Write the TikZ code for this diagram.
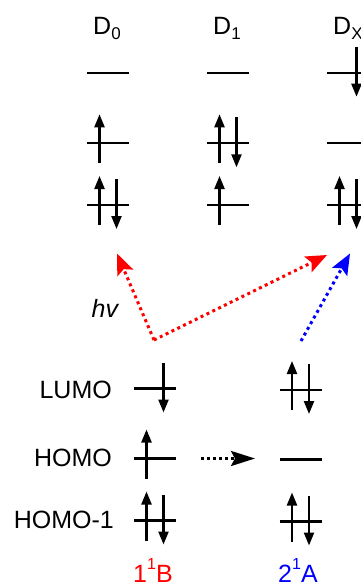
\documentclass[tikz,border=0pt]{standalone}
\usepackage{fontspec}
\setmainfont{Liberation Sans}
\usetikzlibrary{arrows.meta}
\newcommand\lvl[2]{\draw[levelline] ({#1-21},#2) -- ({#1+21},#2);}
\newcommand\spup[2]{\draw[spin] ({#1-8.5},{#2+20}) -- ({#1-8.5},{#2-29});}
\newcommand\spdn[2]{\draw[spin] ({#1+8.5},{#2-26}) -- ({#1+8.5},{#2+24});}
\newcommand\subsc[1]{\raisebox{-0.2em}{\fontsize{17}{17}\selectfont #1}}
\newcommand\supsc[1]{\raisebox{0.5em}{\fontsize{16}{16}\selectfont #1}}
\begin{document}
\begin{tikzpicture}[x=1pt,y=-1pt,
  levelline/.style={line width=2.3pt},
  spin/.style={line width=2.3pt,-{Triangle[length=13pt,width=10pt]}},
  lbl/.style={font=\fontsize{25}{29}\selectfont, inner sep=0pt},
  dotarrow/.style={line width=3pt, dash pattern=on 3pt off 3.5pt,
     -{Stealth[length=21pt,width=17pt,inset=4pt]}},
  blkarrow/.style={line width=2.8pt, dash pattern=on 2.8pt off 3.2pt,
     -{Stealth[length=24pt,width=15pt,inset=4pt]}}]
\useasboundingbox (0,0) rectangle (360,586);
% top labels
\node[lbl,anchor=base west] (d0) at (93,35) {D\subsc{0}};
\node[lbl,anchor=base west] (d1) at (213,35) {D\subsc{1}};
\node[lbl,anchor=base west] (dx) at (333,35) {D\subsc{X}};
% D0
\lvl{108}{72.7}\lvl{108}{143.3}\lvl{108}{205}
\spup{108}{143.3}
\spup{108}{205}\spdn{108}{205}
% D1
\lvl{228}{72.7}\lvl{228}{143.3}\lvl{228}{205}
\spup{228}{143.3}\spdn{228}{143.3}
\spup{228}{205}
% DX
\lvl{348}{72.7}\lvl{348}{143.3}\lvl{348}{205}
\spdn{348}{72.7}
\spup{348}{205}\spdn{348}{205}
% lower labels
\node[lbl,anchor=base east] (lumo) at (112,398.5) {LUMO};
\node[lbl,anchor=base east] (homo) at (112,466.5) {HOMO};
\node[lbl,anchor=base east] (homo1) at (114,528.5) {HOMO-1};
\node[lbl,anchor=base west,text=red] (b1) at (133,582) {1\supsc{1}B};
\node[lbl,anchor=base west,text=blue] (a2) at (278,582) {2\supsc{1}A};
\node[lbl,anchor=base west] (hv) at (91.5,317) {\itshape hv};
% 1^1B
\lvl{155}{388.5}\lvl{155}{458.5}\lvl{155}{520.5}
\spdn{155}{388.5}
\spup{155}{458.5}
\spup{155}{520.5}\spdn{155}{520.5}
% 2^1A
\lvl{300.5}{390}\lvl{300.5}{459.5}\lvl{300.5}{521.5}
\spup{300.5}{390}\spdn{300.5}{390}
\spup{300.5}{521.5}\spdn{300.5}{521.5}
% dotted arrows
\coordinate (rs) at (154,340);
\coordinate (rt1) at (117,253.5);
\coordinate (rt2) at (327,255);
\coordinate (bs) at (301,341);
\coordinate (bt) at (350,253.5);
\coordinate (ks) at (201,458.5);
\coordinate (kt) at (255,458.5);
\draw[dotarrow,red] (rs) -- (rt1);
\draw[dotarrow,red] (rs) -- (rt2);
\draw[dotarrow,blue] (bs) -- (bt);
\draw[blkarrow] (ks) -- (kt);
\end{tikzpicture}
\end{document}
